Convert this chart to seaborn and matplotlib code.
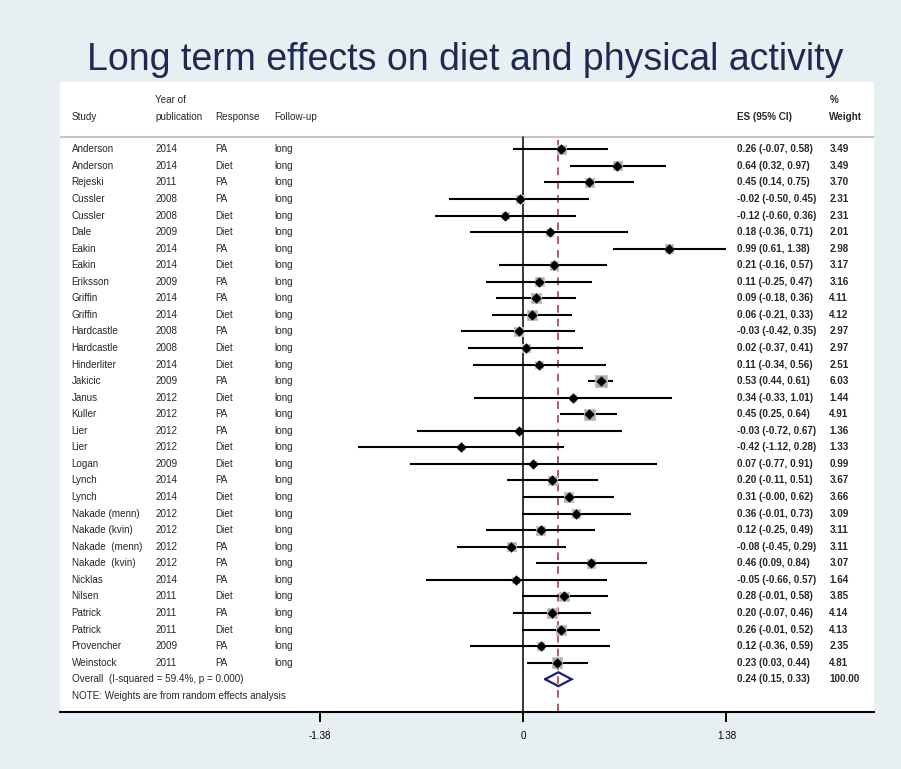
import matplotlib
matplotlib.use("Agg")
import matplotlib.pyplot as plt
import seaborn as sns
import pandas as pd
import numpy as np
from matplotlib.transforms import blended_transform_factory

studies = ["Anderson", "Anderson", "Rejeski", "Cussler", "Cussler", "Dale", "Eakin", "Eakin",
           "Eriksson", "Griffin", "Griffin", "Hardcastle", "Hardcastle", "Hinderliter", "Jakicic",
           "Janus", "Kuller", "Lier", "Lier", "Logan", "Lynch", "Lynch", "Nakade (menn)",
           "Nakade (kvin)", "Nakade  (menn)", "Nakade  (kvin)", "Nicklas", "Nilsen", "Patrick",
           "Patrick", "Provencher", "Weinstock"]
years = [2014, 2014, 2011, 2008, 2008, 2009, 2014, 2014, 2009, 2014, 2014, 2008, 2008, 2014,
         2009, 2012, 2012, 2012, 2012, 2009, 2014, 2014, 2012, 2012, 2012, 2012, 2014, 2011,
         2011, 2011, 2009, 2011]
responses = ["PA", "Diet", "PA", "PA", "Diet", "Diet", "PA", "Diet", "PA", "PA", "Diet", "PA",
             "Diet", "Diet", "PA", "Diet", "PA", "PA", "Diet", "Diet", "PA", "Diet", "Diet",
             "Diet", "PA", "PA", "PA", "Diet", "PA", "Diet", "PA", "PA"]
followup = ["long"] * 32
es = [0.26, 0.64, 0.45, -0.02, -0.12, 0.18, 0.99, 0.21, 0.11, 0.09, 0.06, -0.03, 0.02, 0.11,
      0.53, 0.34, 0.45, -0.03, -0.42, 0.07, 0.20, 0.31, 0.36, 0.12, -0.08, 0.46, -0.05, 0.28,
      0.20, 0.26, 0.12, 0.23]
ci_lo = [-0.07, 0.32, 0.14, -0.50, -0.60, -0.36, 0.61, -0.16, -0.25, -0.18, -0.21, -0.42, -0.37,
         -0.34, 0.44, -0.33, 0.25, -0.72, -1.12, -0.77, -0.11, -0.00, -0.01, -0.25, -0.45, 0.09,
         -0.66, -0.01, -0.07, -0.01, -0.36, 0.03]
ci_hi = [0.58, 0.97, 0.75, 0.45, 0.36, 0.71, 1.38, 0.57, 0.47, 0.36, 0.33, 0.35, 0.41, 0.56,
         0.61, 1.01, 0.64, 0.67, 0.28, 0.91, 0.51, 0.62, 0.73, 0.49, 0.29, 0.84, 0.57, 0.58,
         0.46, 0.52, 0.59, 0.44]
weights = [3.49, 3.49, 3.70, 2.31, 2.31, 2.01, 2.98, 3.17, 3.16, 4.11, 4.12, 2.97, 2.97, 2.51,
           6.03, 1.44, 4.91, 1.36, 1.33, 0.99, 3.67, 3.66, 3.09, 3.11, 3.11, 3.07, 1.64, 3.85,
           4.14, 4.13, 2.35, 4.81]
overall_es, overall_lo, overall_hi, overall_w = 0.24, 0.15, 0.33, 100.00
overall_label = "Overall  (I-squared = 59.4%, p = 0.000)"
note = "NOTE: Weights are from random effects analysis"
xticks = [-1.38, 0, 1.38]
xticklabels = ["-1.38", "0", "1.38"]
title = "Long term effects on diet and physical activity"

df = pd.DataFrame({"study": studies, "year": years, "response": responses, "es": es,
                   "lo": ci_lo, "hi": ci_hi, "weight": weights})
df["row"] = np.arange(len(df))

BG = "#e8eff2"
FONT = ["Liberation Sans", "DejaVu Sans"]
sns.set_theme(style="white")
plt.rcParams["font.family"] = FONT

W, H = 901, 769
fig = plt.figure(figsize=(W / 100, H / 100), dpi=100)
fig.patch.set_facecolor(BG)

# panel geometry in pixels
pl, pr, pt, pb = 60, 873.7, 81.7, 712.3
ax = fig.add_axes([pl / W, 1 - pb / H, (pr - pl) / W, (pb - pt) / H])
ax.set_facecolor("white")

x0px, ppu = 523.0, 147.4
ax.set_xlim((pl - x0px) / ppu, (pr - x0px) / ppu)
row0, rstep = 149.3, 16.56
ax.set_ylim((pb - row0) / rstep, (pt - row0) / rstep)

def px2x(p):
    return (p - pl) / (pr - pl)

trans = blended_transform_factory(ax.transAxes, ax.transData)

# header separator line
ax.axhline((136.7 - row0) / rstep, color="#c4c4c4", lw=1.5, zorder=1)
# null line
ax.plot([0, 0], [(136.7 - row0) / rstep, (pb - row0) / rstep], color="black", lw=1.1, zorder=2)
# overall dashed line
ax.plot([overall_es, overall_es], [(140 - row0) / rstep, (pb - row0) / rstep],
        color="#a52a38", lw=1.1, ls=(0, (5, 4)), zorder=2)

# CI lines
ax.hlines(df["row"], df["lo"], df["hi"], color="black", lw=1.5, zorder=3)
# weight squares
sns.scatterplot(data=df, x="es", y="row", size="weight", sizes=(0, 12.5 * max(weights)),
                size_norm=(0, max(weights)), marker="s", color="#ababab", edgecolor="#c6c6c6",
                linewidth=0.8, legend=False, ax=ax, zorder=4)
# point estimates
sns.scatterplot(data=df, x="es", y="row", marker="D", s=28, color="black", edgecolor="black",
                linewidth=0, legend=False, ax=ax, zorder=5)

# overall diamond
orow = len(df)
dh = 0.42
ax.plot([overall_lo, overall_es, overall_hi, overall_es, overall_lo],
        [orow, orow - dh, orow, orow + dh, orow], color="#1a1f7a", lw=1.6, zorder=6,
        solid_joinstyle="miter")

fs = 7.1
cols = {"study": 71.7, "year": 155, "resp": 215.7, "fu": 274, "es": 736.7, "w": 829.3}
for i, r in df.iterrows():
    y = r["row"]
    ax.text(px2x(cols["study"]), y, r["study"], transform=trans, fontsize=fs, va="center", ha="left")
    ax.text(px2x(cols["year"]), y, str(r["year"]), transform=trans, fontsize=fs, va="center", ha="left")
    ax.text(px2x(cols["resp"]), y, r["response"], transform=trans, fontsize=fs, va="center", ha="left")
    ax.text(px2x(cols["fu"]), y, followup[i], transform=trans, fontsize=fs, va="center", ha="left")
    ax.text(px2x(cols["es"]), y, f"{r['es']:.2f} ({r['lo']:.2f}, {r['hi']:.2f})", transform=trans,
            fontsize=fs, va="center", ha="left", fontweight="bold")
    ax.text(px2x(cols["w"]), y, f"{r['weight']:.2f}", transform=trans, fontsize=fs, va="center",
            ha="left", fontweight="bold")

ax.text(px2x(cols["study"]), orow, overall_label, transform=trans, fontsize=fs, va="center", ha="left")
ax.text(px2x(cols["es"]), orow, f"{overall_es:.2f} ({overall_lo:.2f}, {overall_hi:.2f})",
        transform=trans, fontsize=fs, va="center", ha="left", fontweight="bold")
ax.text(px2x(cols["w"]), orow, f"{overall_w:.2f}", transform=trans, fontsize=fs, va="center",
        ha="left", fontweight="bold")
ax.text(px2x(cols["study"]), orow + 1, note, transform=trans, fontsize=fs, va="center", ha="left")

# headers
h1 = (100 - row0) / rstep
h2 = (116.7 - row0) / rstep
ax.text(px2x(cols["study"]), h2, "Study", transform=trans, fontsize=fs, va="center")
ax.text(px2x(cols["year"]), h1, "Year of", transform=trans, fontsize=fs, va="center")
ax.text(px2x(cols["year"]), h2, "publication", transform=trans, fontsize=fs, va="center")
ax.text(px2x(cols["resp"]), h2, "Response", transform=trans, fontsize=fs, va="center")
ax.text(px2x(cols["fu"]), h2, "Follow-up", transform=trans, fontsize=fs, va="center")
ax.text(px2x(cols["es"]), h2, "ES (95% CI)", transform=trans, fontsize=fs, va="center", fontweight="bold")
ax.text(px2x(cols["w"]), h1, "%", transform=trans, fontsize=fs, va="center", fontweight="bold")
ax.text(px2x(cols["w"]), h2, "Weight", transform=trans, fontsize=fs, va="center", fontweight="bold")

# axes styling
for s in ["top", "left", "right"]:
    ax.spines[s].set_visible(False)
ax.spines["bottom"].set_color("black")
ax.spines["bottom"].set_linewidth(1.5)
ax.set_yticks([])
ax.set_xticks(xticks)
ax.set_xticklabels(xticklabels, fontsize=fs)
ax.tick_params(axis="x", direction="out", length=7.5, width=1.4, color="black", pad=6,
               bottom=True, labelcolor="black")
ax.set_xlabel("")
ax.set_ylabel("")

fig.text(465 / W, 1 - 70 / H, title, ha="center", va="baseline", fontsize=27, color="#1f2a52",
         family=FONT)

fig.savefig("out.png", dpi=100, facecolor=BG)
